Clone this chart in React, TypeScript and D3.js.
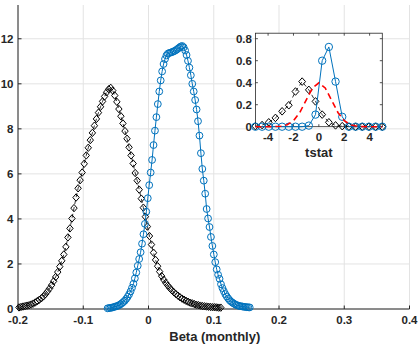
import React from "react";
import * as d3 from "d3";

// ---------- main panel data (kernel density of beta) ----------
const blackX = [
  -0.1985, -0.1954, -0.1923, -0.1891, -0.186, -0.1829, -0.1797, -0.1766, -0.1735, -0.1704,
  -0.1673, -0.1641, -0.161, -0.1579, -0.1548, -0.1516, -0.1485, -0.1454, -0.1423, -0.1391,
  -0.136, -0.1329, -0.1298, -0.1266, -0.1235, -0.1204, -0.1173, -0.1142, -0.111, -0.1079,
  -0.1048, -0.1017, -0.0985, -0.0954, -0.0923, -0.0892, -0.086, -0.0829, -0.0798, -0.0767,
  -0.0735, -0.0704, -0.0673, -0.0642, -0.061, -0.0579, -0.0548, -0.0517, -0.0485, -0.0454,
  -0.0423, -0.0392, -0.036, -0.0329, -0.0298, -0.0267, -0.0235, -0.0204, -0.0173, -0.0142,
  -0.011, -0.0079, -0.0048, -0.0017, 0.0015, 0.0046, 0.0077, 0.0108, 0.014, 0.0171,
  0.0202, 0.0233, 0.0265, 0.0296, 0.0327, 0.0358, 0.039, 0.0421, 0.0452, 0.0483,
  0.0515, 0.0546, 0.0577, 0.0608, 0.064, 0.0671, 0.0702, 0.0733, 0.0765, 0.0796,
  0.0827, 0.0858, 0.089, 0.0921, 0.0952, 0.0983, 0.1015, 0.1046, 0.1077, 0.1108,
];
const blackY = [
  0.07, 0.09, 0.11, 0.13, 0.15, 0.17, 0.2, 0.24, 0.29, 0.35,
  0.41, 0.48, 0.56, 0.66, 0.78, 0.91, 1.06, 1.23, 1.42, 1.64,
  1.88, 2.14, 2.42, 2.76, 3.18, 3.58, 4.02, 4.48, 4.95, 5.36,
  5.72, 6.06, 6.45, 6.82, 7.16, 7.5, 7.82, 8.14, 8.44, 8.72,
  8.98, 9.22, 9.44, 9.62, 9.76, 9.82, 9.7, 9.48, 9.2, 8.88,
  8.56, 8.24, 7.9, 7.56, 7.18, 6.82, 6.46, 6.04, 5.7, 5.3,
  4.9, 4.5, 4.1, 3.66, 3.24, 2.86, 2.5, 2.18, 1.9, 1.66,
  1.46, 1.3, 1.16, 1.04, 0.93, 0.83, 0.74, 0.66, 0.59, 0.52,
  0.46, 0.41, 0.36, 0.32, 0.28, 0.25, 0.22, 0.19, 0.17, 0.15,
  0.13, 0.12, 0.11, 0.1, 0.09, 0.08, 0.08, 0.07, 0.06, 0.06,
];
const blueX = [
  -0.0627, -0.0605, -0.0583, -0.0561, -0.0539, -0.0517, -0.0495, -0.0473, -0.0451, -0.0429,
  -0.0407, -0.0385, -0.0363, -0.0341, -0.0319, -0.0297, -0.0275, -0.0253, -0.0231, -0.0209,
  -0.0187, -0.0165, -0.0143, -0.0121, -0.0099, -0.0077, -0.0055, -0.0033, -0.0011, 0.0011,
  0.0033, 0.0055, 0.0077, 0.0099, 0.0121, 0.0143, 0.0165, 0.0187, 0.0209, 0.0231,
  0.0253, 0.0275, 0.0297, 0.0319, 0.0341, 0.0363, 0.0385, 0.0407, 0.0429, 0.0451,
  0.0473, 0.0495, 0.0517, 0.0539, 0.0561, 0.0583, 0.0605, 0.0627, 0.0649, 0.0671,
  0.0693, 0.0715, 0.0737, 0.0759, 0.0781, 0.0803, 0.0825, 0.0847, 0.0869, 0.0891,
  0.0913, 0.0935, 0.0957, 0.0979, 0.1001, 0.1023, 0.1045, 0.1067, 0.1089, 0.1111,
  0.1133, 0.1155, 0.1177, 0.1199, 0.1221, 0.1243, 0.1265, 0.1287, 0.1309, 0.1331,
  0.1353, 0.1375, 0.1397, 0.1419, 0.1441, 0.1463, 0.1485, 0.1507, 0.1529, 0.1551,
];
const blueY = [
  0.03, 0.04, 0.05, 0.06, 0.08, 0.1, 0.12, 0.14, 0.17, 0.21,
  0.26, 0.31, 0.37, 0.45, 0.54, 0.65, 0.78, 0.94, 1.12, 1.36,
  1.62, 1.92, 2.22, 2.52, 2.9, 3.32, 3.78, 4.32, 4.92, 5.5,
  6.06, 6.62, 7.28, 7.92, 8.52, 9.1, 9.66, 10.15, 10.55, 10.88,
  11.1, 11.26, 11.34, 11.37, 11.39, 11.41, 11.44, 11.47, 11.51, 11.56,
  11.61, 11.66, 11.68, 11.62, 11.48, 11.28, 11.02, 10.72, 10.38, 10.0,
  9.66, 9.28, 8.86, 8.34, 7.7, 6.92, 6.22, 5.7, 5.12, 4.44,
  4.02, 3.64, 3.2, 2.8, 2.42, 2.08, 1.76, 1.52, 1.34, 1.1,
  0.93, 0.79, 0.66, 0.56, 0.47, 0.39, 0.33, 0.28, 0.24, 0.2,
  0.17, 0.15, 0.13, 0.12, 0.11, 0.1, 0.09, 0.08, 0.075, 0.07,
];
const xTicks = [-0.2, -0.1, 0, 0.1, 0.2, 0.3, 0.4];
const xTickLabels = ["-0.2", "-0.1", "0", "0.1", "0.2", "0.3", "0.4"];
const yTicks = [0, 2, 4, 6, 8, 10, 12];
const yTickLabels = ["0", "2", "4", "6", "8", "10", "12"];
const xLabel = "Beta (monthly)";

// ---------- inset data (t-statistics) ----------
const insetT = [
  -5, -4.474, -3.947, -3.421, -2.895, -2.368, -1.842, -1.316, -0.789, -0.263,
  0.263, 0.789, 1.316, 1.842, 2.368, 2.895, 3.421, 3.947, 4.474, 5,
];
const insetBlack = [
  0.005, 0.015, 0.04, 0.08, 0.14, 0.195, 0.32, 0.41, 0.335, 0.23,
  0.11, 0.04, 0.012, 0.005, 0, 0, 0, 0, 0, 0,
];
const insetBlue = [
  0, 0, 0, 0, 0, 0, 0, 0, 0.01, 0.11,
  0.6, 0.725, 0.41, 0.09, 0, 0, 0, 0, 0, 0,
];
const normT = [-5, -4, -3.5, -3, -2.5, -2, -1.5, -1, -0.5, 0, 0.5, 1, 1.5, 2, 2.5, 3, 3.5, 4, 5];
const normY = [0, 0.0001, 0.0009, 0.0044, 0.0175, 0.054, 0.1295, 0.242, 0.352, 0.399, 0.352, 0.242, 0.1295, 0.054, 0.0175, 0.0044, 0.0009, 0.0001, 0];
const insetXTicks = [-4, -2, 0, 2, 4];
const insetXTickLabels = ["-4", "-2", "0", "2", "4"];
const insetYTicks = [0, 0.2, 0.4, 0.6, 0.8];
const insetYTickLabels = ["0", "0.2", "0.4", "0.6", "0.8"];
const insetXLabel = "tstat";

const BLUE = "#0072BD";
const AX = "#262626";
const GRID = "#e3e3e3";
const FONT = "'Liberation Sans', Arial, Helvetica, sans-serif";

const diamond = (rx: number, ry: number) => `M0,${-ry}L${rx},0L0,${ry}L${-rx},0Z`;

export default function App() {
  const W = 418, H = 349;
  const x = d3.scaleLinear().domain([-0.2, 0.4]).range([18, 409.5]);
  const y = d3.scaleLinear().domain([0, 13.5]).range([309, 5]);

  const xi = d3.scaleLinear().domain([-5, 5]).range([255.4, 382.3]);
  const yi = d3.scaleLinear().domain([0, 0.85]).range([126.7, 33.2]);

  const mainLine = (xs: number[], ys: number[]) =>
    d3.line<number>().x((_, i) => x(xs[i])).y((d) => y(d))(ys) || "";
  const insetLine = (xs: number[], ys: number[]) =>
    d3.line<number>().x((_, i) => xi(xs[i])).y((d) => yi(d))(ys) || "";

  const [x0, x1] = x.range();
  const [y0, y1] = y.range();
  const [ix0, ix1] = xi.range();
  const [iy0, iy1] = yi.range();

  return (
    <svg
      width={W}
      height={H}
      style={{ position: "absolute", left: 0, top: 0, background: "#fff" }}
      fontFamily={FONT}
    >
      <rect x={0} y={0} width={W} height={H} fill="#fff" />
      {/* grid */}
      {xTicks.map((t) => (
        <line key={"gx" + t} x1={x(t)} x2={x(t)} y1={y0} y2={y1} stroke={GRID} strokeWidth={1} />
      ))}
      {yTicks.map((t) => (
        <line key={"gy" + t} x1={x0} x2={x1} y1={y(t)} y2={y(t)} stroke={GRID} strokeWidth={1} />
      ))}
      {/* main axes */}
      <line x1={x0} x2={x1} y1={y0} y2={y0} stroke={AX} strokeWidth={1} />
      <line x1={x0} x2={x0} y1={y0} y2={y1} stroke={AX} strokeWidth={1} />
      {xTicks.map((t) => (
        <line key={"tx" + t} x1={x(t)} x2={x(t)} y1={y0} y2={y0 - 3.5} stroke={AX} strokeWidth={1} />
      ))}
      {yTicks.map((t) => (
        <line key={"ty" + t} x1={x0} x2={x0 + 3.5} y1={y(t)} y2={y(t)} stroke={AX} strokeWidth={1} />
      ))}
      {xTicks.map((t, i) => (
        <text key={"lx" + t} x={x(t)} y={y0 + 15} textAnchor="middle" fontSize={11.5} fontWeight="bold" fill={AX}>
          {xTickLabels[i]}
        </text>
      ))}
      {yTicks.map((t, i) => (
        <text key={"ly" + t} x={x0 - 4.5} y={y(t) + 4} textAnchor="end" fontSize={11.5} fontWeight="bold" fill={AX}>
          {yTickLabels[i]}
        </text>
      ))}
      <text x={(x0 + x1) / 2 + 1} y={341} textAnchor="middle" fontSize={13} fontWeight="bold" fill={AX}>
        {xLabel}
      </text>

      {/* black series */}
      <path d={mainLine(blackX, blackY)} fill="none" stroke="#000" strokeWidth={0.8} strokeDasharray="4,3" />
      {blackY.map((v, i) => (
        <path
          key={"bd" + i}
          d={diamond(3.2, 3.7)}
          transform={`translate(${x(blackX[i])},${y(v)})`}
          fill="none"
          stroke="#000"
          strokeWidth={1}
        />
      ))}
      {/* blue series */}
      <path d={mainLine(blueX, blueY)} fill="none" stroke={BLUE} strokeWidth={1} />
      {blueY.map((v, i) => (
        <circle key={"bc" + i} cx={x(blueX[i])} cy={y(v)} r={3.4} fill="none" stroke={BLUE} strokeWidth={1} />
      ))}

      {/* inset */}
      <rect x={ix0} y={iy1} width={ix1 - ix0} height={iy0 - iy1} fill="#fff" stroke="none" />
      {insetXTicks.map((t) => (
        <g key={"itx" + t}>
          <line x1={xi(t)} x2={xi(t)} y1={iy0} y2={iy0 - 2.5} stroke={AX} strokeWidth={0.8} />
          <line x1={xi(t)} x2={xi(t)} y1={iy1} y2={iy1 + 2.5} stroke={AX} strokeWidth={0.8} />
        </g>
      ))}
      {insetYTicks.map((t) => (
        <g key={"ity" + t}>
          <line x1={ix0} x2={ix0 + 2.5} y1={yi(t)} y2={yi(t)} stroke={AX} strokeWidth={0.8} />
          <line x1={ix1} x2={ix1 - 2.5} y1={yi(t)} y2={yi(t)} stroke={AX} strokeWidth={0.8} />
        </g>
      ))}
      <rect x={ix0} y={iy1} width={ix1 - ix0} height={iy0 - iy1} fill="none" stroke={AX} strokeWidth={0.8} />
      {insetXTicks.map((t, i) => (
        <text key={"ilx" + t} x={xi(t)} y={iy0 + 14} textAnchor="middle" fontSize={11.5} fontWeight="bold" fill={AX}>
          {insetXTickLabels[i]}
        </text>
      ))}
      {insetYTicks.map((t, i) => (
        <text key={"ily" + t} x={ix0 - 3.5} y={yi(t) + 4} textAnchor="end" fontSize={11.5} fontWeight="bold" fill={AX}>
          {insetYTickLabels[i]}
        </text>
      ))}
      <text x={(ix0 + ix1) / 2} y={157} textAnchor="middle" fontSize={13} fontWeight="bold" fill={AX}>
        {insetXLabel}
      </text>

      <path d={insetLine(insetT, insetBlack)} fill="none" stroke="#000" strokeWidth={0.8} strokeDasharray="4,3" />
      {insetBlack.map((v, i) => (
        <path
          key={"ibd" + i}
          d={diamond(3.4, 3.8)}
          transform={`translate(${xi(insetT[i])},${yi(v)})`}
          fill="none"
          stroke="#000"
          strokeWidth={1}
        />
      ))}
      <path d={insetLine(insetT, insetBlue)} fill="none" stroke={BLUE} strokeWidth={1} />
      {insetBlue.map((v, i) => (
        <circle key={"ibc" + i} cx={xi(insetT[i])} cy={yi(v)} r={3.7} fill="none" stroke={BLUE} strokeWidth={1} />
      ))}
      <path d={insetLine(normT, normY)} fill="none" stroke="#ff0000" strokeWidth={1.6} strokeDasharray="6,4" />
    </svg>
  );
}
